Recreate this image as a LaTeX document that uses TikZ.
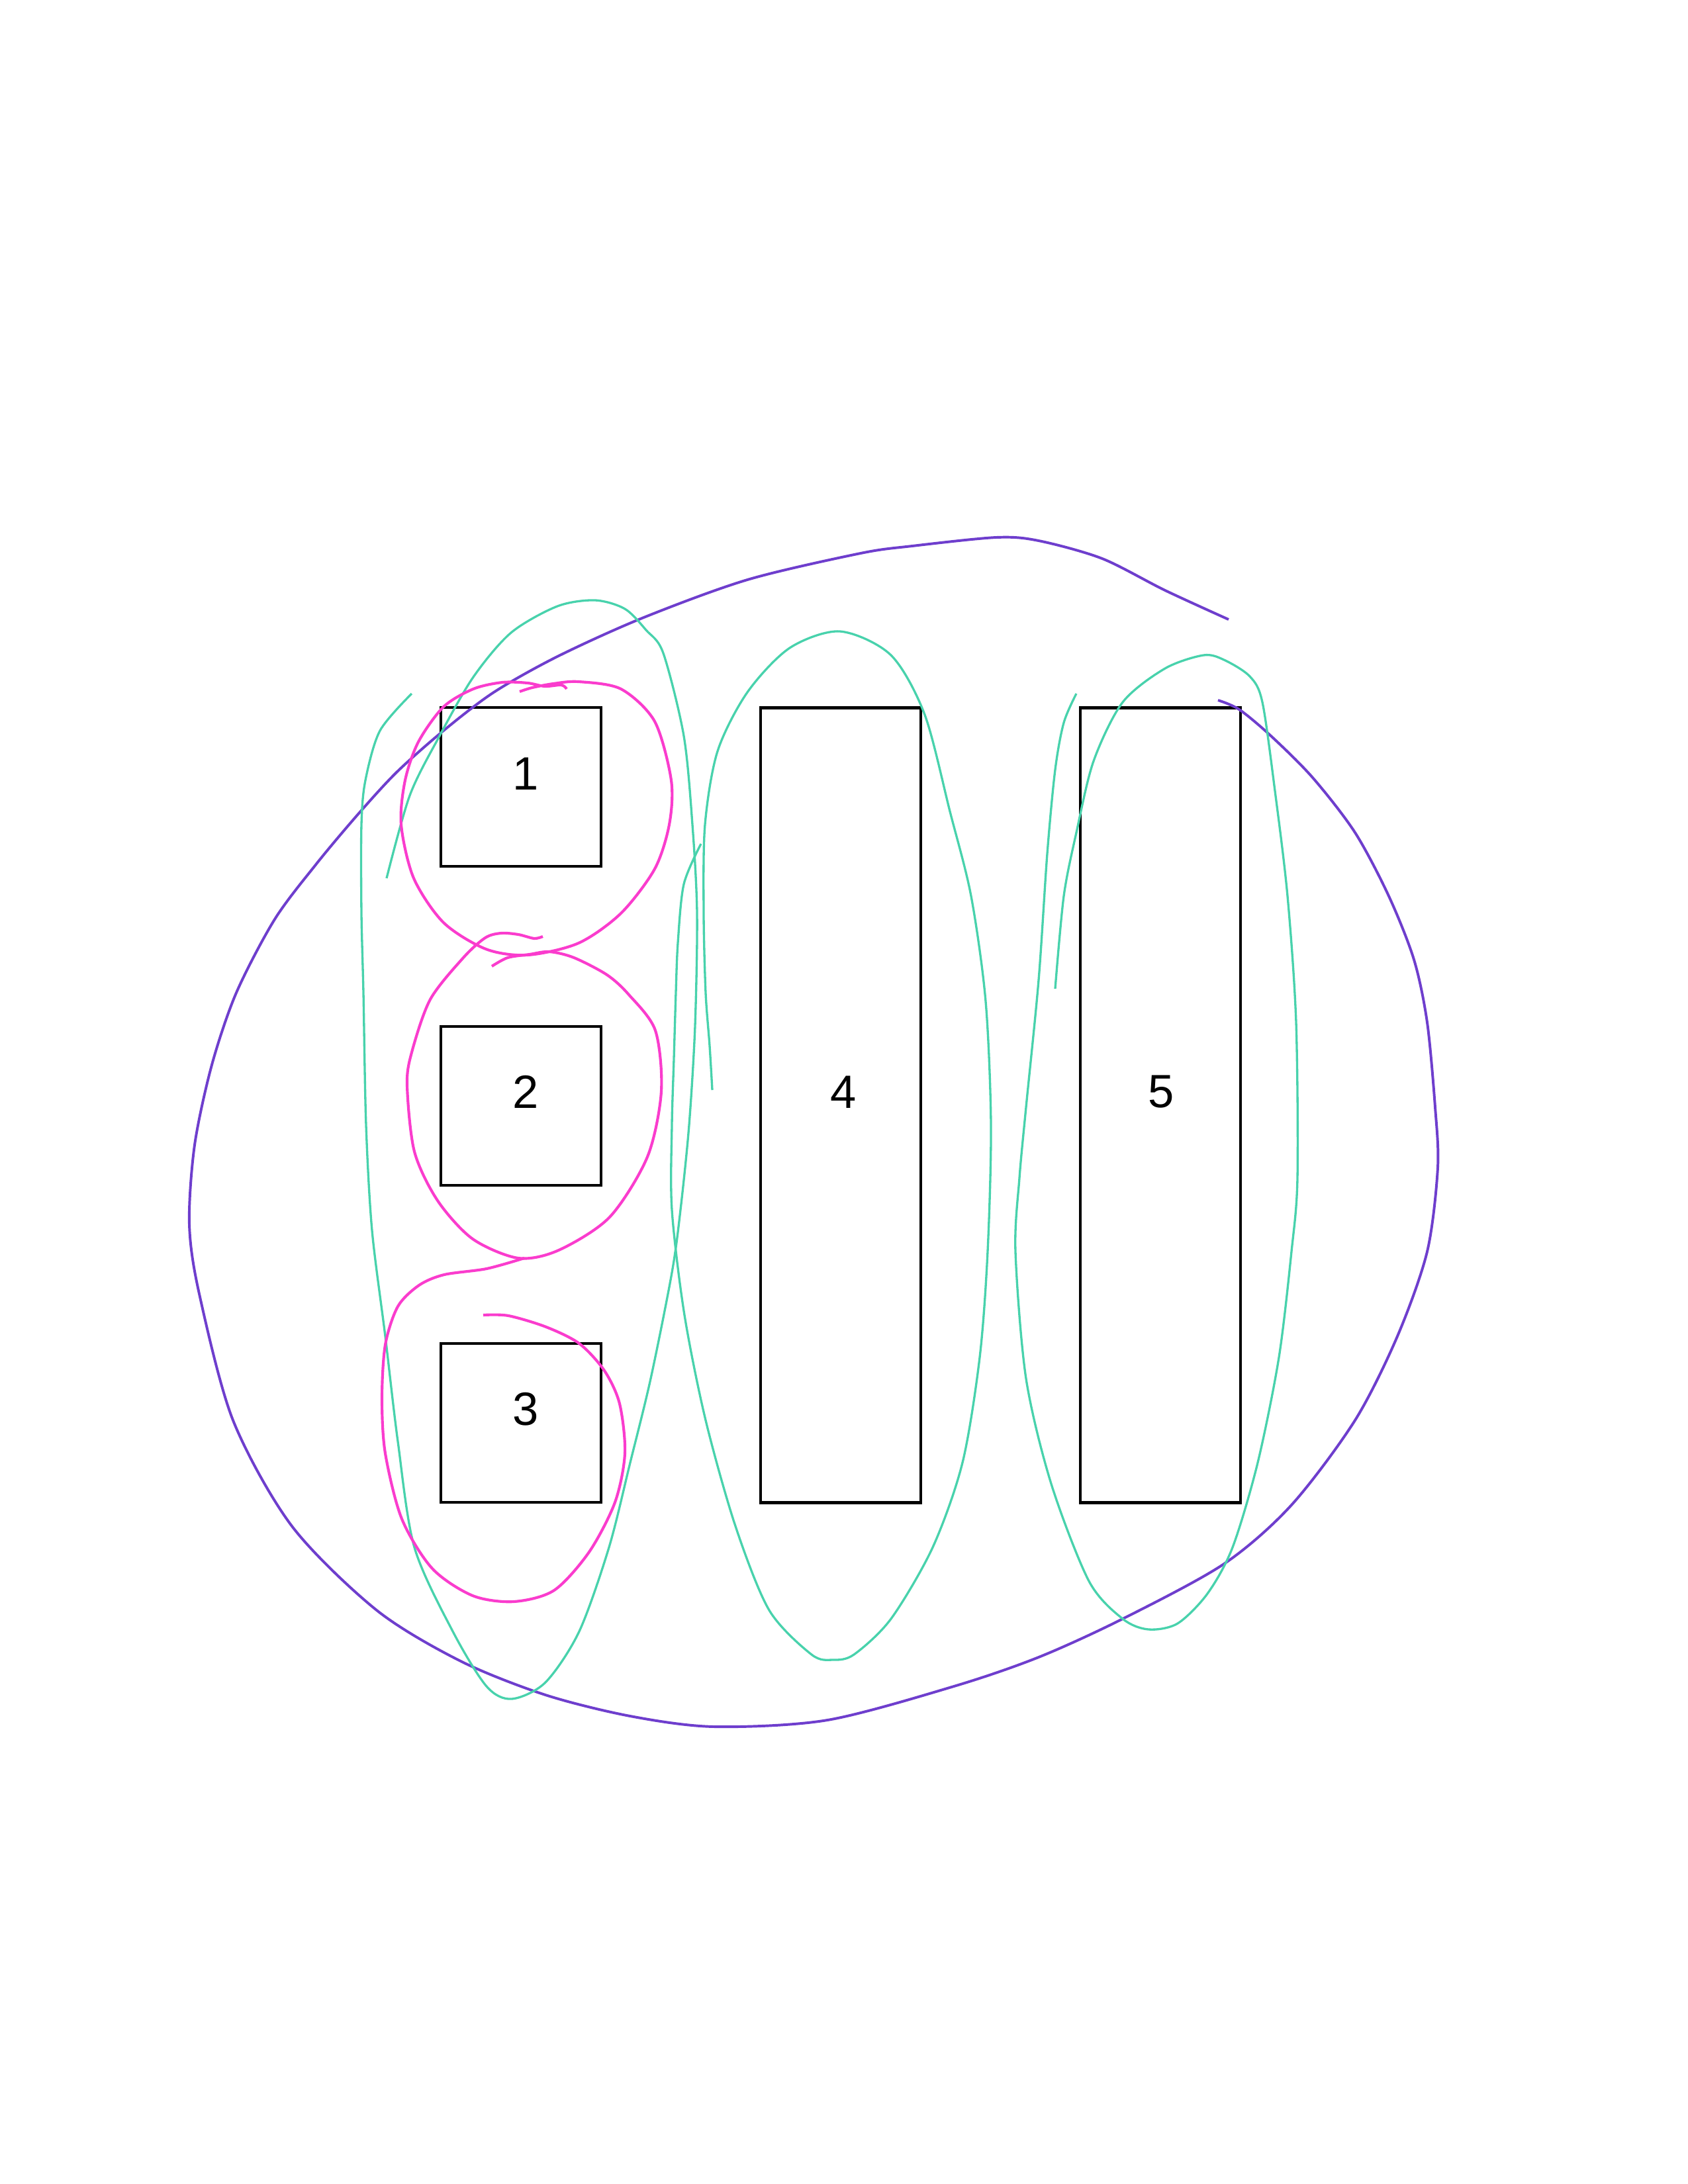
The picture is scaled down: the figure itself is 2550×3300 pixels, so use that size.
\documentclass[tikz,border=0pt]{standalone}
\usepackage{fontspec}
\setsansfont{Liberation Sans}
\definecolor{ringviolet}{RGB}{110,62,205}
\definecolor{loopgreen}{RGB}{72,210,172}
\definecolor{looppink}{RGB}{250,60,205}

\begin{document}
\begin{tikzpicture}[x=0.2409pt,y=-0.2409pt,every node/.style={font=\sffamily\fontsize{17}{20}\selectfont},
  cell/.style={draw,line width=1pt,inner sep=0pt,minimum width=58.3pt,minimum height=57.8pt},
  tall/.style={cell,minimum height=289.3pt}]
\useasboundingbox (0,0) rectangle (2550,3300);
% the five boxes
\node[cell] (b1) at (787,1189){};
\node[cell] (b2) at (787,1671){};
\node[cell] (b3) at (787,2150){};
\node[tall] (b4) at (1270,1670){};
\node[tall] (b5) at (1753,1670){};
\node (t1) at (794,1169){1};
\node (t2) at (794,1650){2};
\node (t3) at (794,2129){3};
\node (t4) at (1274,1650){4};
\node (t5) at (1754,1650){5};
% big violet ring
\draw[ringviolet,line width=0.95pt,smooth] plot coordinates {(1856,936)(1760,892)(1665,844)(1569,817)(1505,812)(1378,825)(1300,836)(1129,876)(970,934)(842,992)(746,1046)(670,1104)(600,1166)(542,1229)(479,1304)(415,1389)(357,1500)(320,1609)(294,1730)(286,1850)(301,1955)(352,2146)(441,2306)(569,2433)(696,2510)(824,2561)(952,2593)(1079,2609)(1250,2599)(1441,2548)(1569,2504)(1696,2446)(1849,2363)(1951,2274)(2047,2146)(2111,2019)(2156,1891)(2172,1764)(2168,1673)(2156,1545)(2136,1450)(2098,1354)(2047,1258)(1983,1175)(1920,1112)(1872,1072)(1840,1058)};
% green loops
\draw[loopgreen,line width=0.8pt,smooth] plot coordinates {(622,1048)(574,1104)(552,1179)(546,1246)(546,1380)(549,1500)(553,1700)(562,1859)(582,2019)(601,2178)(626,2338)(684,2465)(735,2548)(773,2567)(824,2542)(875,2465)(920,2338)(952,2210)(983,2083)(1015,1923)(1028,1828)(1041,1700)(1050,1550)(1053,1380)(1046,1246)(1033,1112)(1002,987)(976,952)(944,920)(899,907)(842,916)(772,956)(715,1023)(664,1112)(619,1202)(584,1327)};
\draw[loopgreen,line width=0.8pt,smooth] plot coordinates {(1059,1275)(1033,1336)(1024,1425)(1021,1500)(1018,1600)(1015,1700)(1015,1828)(1034,1987)(1066,2146)(1111,2306)(1162,2433)(1226,2500)(1258,2508)(1290,2500)(1346,2446)(1409,2338)(1454,2210)(1480,2051)(1492,1891)(1497,1700)(1489,1513)(1467,1354)(1435,1226)(1397,1080)(1346,990)(1269,954)(1193,979)(1129,1046)(1084,1135)(1065,1246)(1063,1380)(1066,1500)(1072,1580)(1076,1647)};
\draw[loopgreen,line width=0.8pt,smooth] plot coordinates {(1626,1048)(1607,1092)(1594,1163)(1582,1290)(1569,1481)(1550,1673)(1540,1780)(1534,1891)(1550,2083)(1588,2242)(1645,2389)(1696,2446)(1735,2462)(1779,2453)(1824,2408)(1862,2338)(1900,2210)(1932,2051)(1951,1891)(1960,1780)(1958,1545)(1945,1354)(1926,1195)(1907,1061)(1888,1022)(1849,997)(1818,990)(1760,1010)(1696,1061)(1652,1150)(1626,1258)(1607,1354)(1594,1494)};
% pink circles
\draw[looppink,line width=1pt,smooth] plot coordinates {(785,1045)(804,1039)(836,1033)(874,1030)(938,1041)(989,1090)(1014,1179)(1011,1246)(989,1313)(938,1380)(874,1425)(797,1443)(734,1434)(670,1394)(625,1327)(606,1246)(612,1179)(632,1121)(670,1068)(715,1041)(759,1031)(797,1032)(823,1037)(848,1035)(856,1041)};
\draw[looppink,line width=1pt,smooth] plot coordinates {(820,1415)(807,1418)(783,1412)(757,1410)(733,1417)(700,1447)(650,1510)(622,1590)(615,1640)(626,1740)(661,1814)(714,1872)(783,1901)(844,1889)(921,1839)(978,1748)(999,1649)(990,1557)(950,1503)(917,1473)(867,1447)(830,1438)(800,1442)(767,1447)(743,1460)};
\draw[looppink,line width=1pt,smooth] plot coordinates {(792,1901)(735,1917)(671,1926)(633,1942)(601,1974)(582,2032)(577,2113)(582,2196)(607,2295)(653,2370)(714,2411)(776,2420)(837,2403)(890,2345)(929,2270)(944,2196)(936,2121)(913,2071)(875,2030)(825,2005)(768,1988)(730,1987)};
\end{tikzpicture}
\end{document}
